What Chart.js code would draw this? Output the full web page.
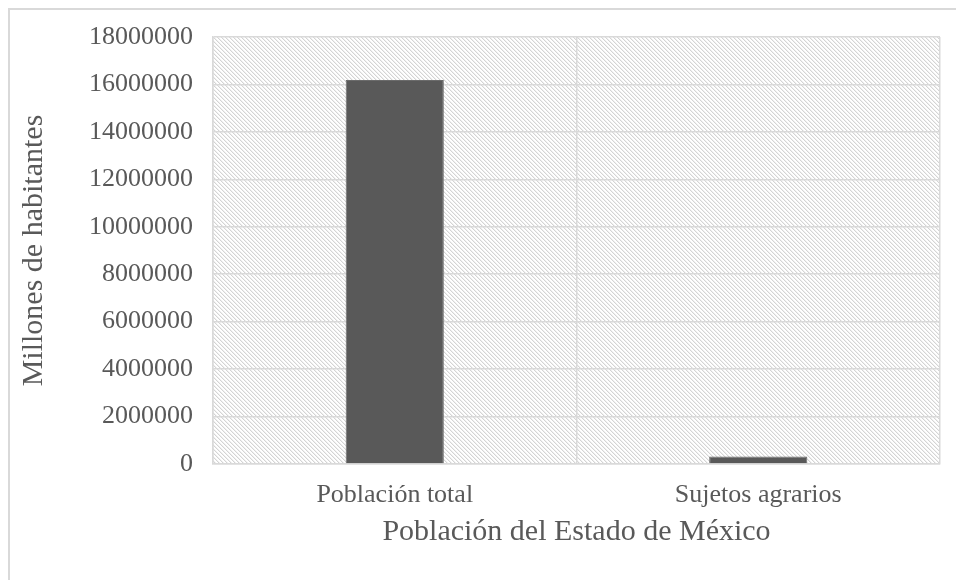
<!DOCTYPE html>
<html>
<head>
<meta charset="utf-8">
<script src="https://cdn.jsdelivr.net/npm/chart.js@4"></script>
<style>
  html, body { margin: 0; padding: 0; background: #ffffff; }
  #wrap { width: 956px; height: 580px; }
</style>
</head>
<body>
<div id="wrap"><canvas id="poblacion"></canvas></div>
<script>
const categorias = ["Población total", "Sujetos agrarios"];
const habitantes = [16187608, 320000];
const ejeY = { min: 0, max: 18000000, paso: 2000000 };

const fuente = "'Liberation Serif', 'Times New Roman', serif";
const gris = '#595959';
const lineas = '#d9d9d9';

// diagonal hatch used as plot background
function hatchPattern(ctx) {
    var c = document.createElement('canvas');
    c.width = 4;
    c.height = 4;
    var p = c.getContext('2d');
    p.fillStyle = '#ffffff';
    p.fillRect(0, 0, 4, 4);
    for (var i = 0; i < 4; i++) {
        p.fillStyle = '#d4d4d4';
        p.fillRect(i, i, 1, 1);
        p.fillStyle = '#f0f0f0';
        p.fillRect((i + 1) % 4, i, 1, 1);
    }
    return ctx.createPattern(c, 'repeat');
}

const fondo = {
    id: 'fondo',
    beforeDraw(chart) {
        const ctx = chart.ctx;
        const a = chart.chartArea;
        ctx.save();
        ctx.fillStyle = '#ffffff';
        ctx.fillRect(0, 0, chart.width, chart.height);
        ctx.strokeStyle = lineas;
        ctx.lineWidth = 2;
        ctx.beginPath();
        ctx.moveTo(9, chart.height);
        ctx.lineTo(9, 9);
        ctx.lineTo(chart.width, 9);
        ctx.stroke();
        ctx.fillStyle = hatchPattern(ctx);
        ctx.fillRect(a.left, a.top, a.right - a.left, a.bottom - a.top);
        ctx.restore();
    }
};

new Chart(document.getElementById('poblacion').getContext('2d'), {
    type: 'bar',
    data: {
        labels: categorias,
        datasets: [{
            label: "Habitantes",
            data: habitantes,
            backgroundColor: gris,
            borderColor: '#6b6b6b',
            borderWidth: 1,
            barPercentage: 0.27,
            categoryPercentage: 1
        }]
    },
    plugins: [fondo],
    options: {
        responsive: true,
        maintainAspectRatio: false,
        animation: false,
        layout: { padding: { left: 10, top: 37, right: 16, bottom: 30 } },
        plugins: {
            legend: { display: false },
            tooltip: { enabled: false }
        },
        scales: {
            x: {
                grid: { color: lineas, lineWidth: 1.5, drawTicks: false, offset: true },
                border: { color: lineas, width: 1.5 },
                ticks: { color: gris, padding: 16, font: { family: fuente, size: 26 } },
                title: {
                    display: true,
                    text: "Población del Estado de México",
                    color: gris,
                    padding: { top: 4, bottom: 0 },
                    font: { family: fuente, size: 30 }
                },
                afterFit(s) { s.height = 86; }
            },
            y: {
                min: ejeY.min,
                max: ejeY.max,
                grid: { color: lineas, lineWidth: 1.5, drawTicks: false },
                border: { color: lineas, width: 1.5 },
                ticks: {
                    stepSize: ejeY.paso,
                    color: gris,
                    padding: 20,
                    font: { family: fuente, size: 26 },
                    callback: function(v) { return String(v); }
                },
                title: {
                    display: true,
                    text: "Millones de habitantes",
                    color: gris,
                    padding: { top: 6, bottom: 0 },
                    font: { family: fuente, size: 30 }
                },
                afterFit(s) { s.width = 203; }
            }
        }
    }
});
</script>
</body>
</html>
